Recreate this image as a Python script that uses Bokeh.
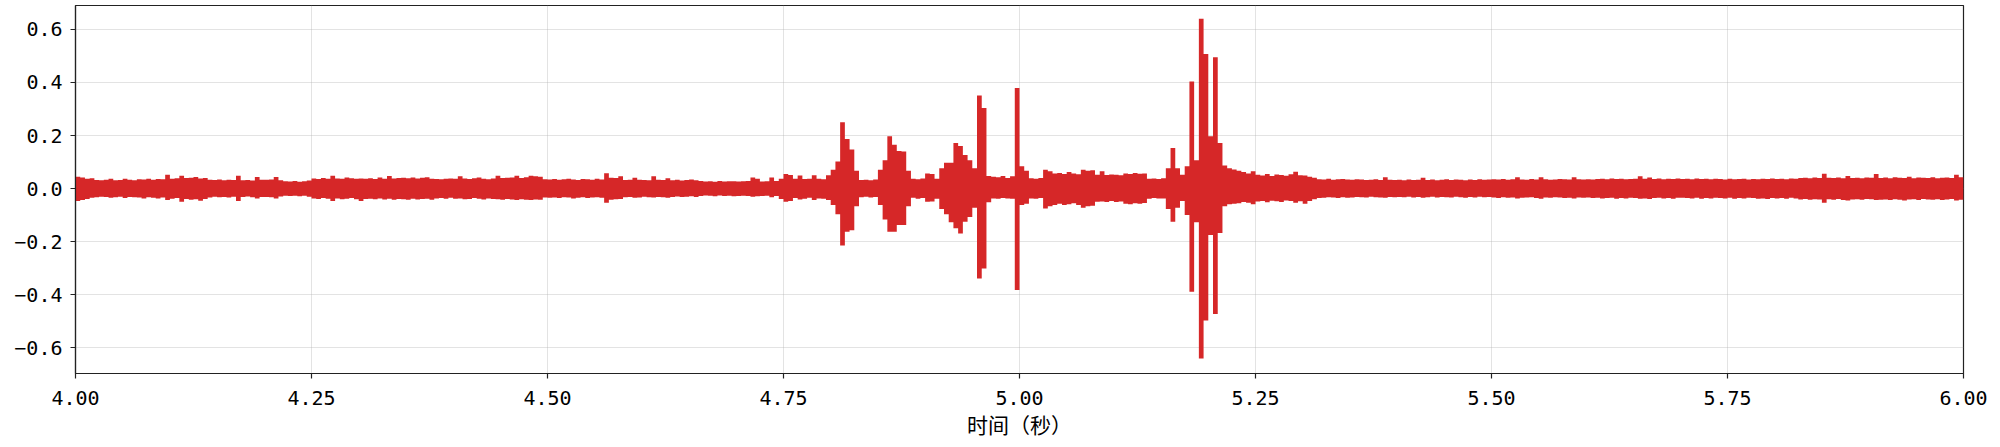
import numpy as np
from bokeh.plotting import figure
from bokeh.models import FixedTicker, CustomJSTickFormatter, Range1d
from bokeh.embed import file_html
from bokeh.resources import INLINE

# Waveform envelope, one bin every 5 ms from 4.00 s
T_START = 4.0
T_STEP = 0.005
X_TICKS = [4.0, 4.25, 4.5, 4.75, 5.0, 5.25, 5.5, 5.75, 6.0]
Y_TICKS = [-0.6, -0.4, -0.2, 0.0, 0.2, 0.4, 0.6]
X_LABEL = "时间（秒）"

# upper envelope (thousandths)
UPPER_MILLI = [
    38, 35, 30, 32, 25, 24, 26, 30, 24, 25, 30, 26, 24, 28, 27, 30, 26, 29, 28, 45,
    30, 32, 41, 33, 34, 37, 31, 33, 26, 25, 27, 24, 26, 25, 41, 24, 25, 23, 37, 26,
    26, 27, 37, 24, 21, 20, 22, 19, 21, 23, 31, 29, 33, 30, 41, 31, 30, 35, 32, 30,
    31, 30, 32, 29, 35, 30, 40, 31, 33, 34, 32, 35, 31, 34, 36, 30, 29, 28, 30, 31,
    30, 39, 31, 29, 32, 35, 30, 28, 31, 41, 33, 34, 35, 41, 33, 36, 41, 39, 38, 28,
    27, 29, 26, 28, 30, 27, 25, 29, 28, 26, 30, 27, 51, 34, 33, 39, 25, 26, 34, 26,
    25, 24, 39, 26, 25, 32, 24, 26, 23, 25, 27, 24, 22, 20, 21, 19, 22, 20, 21, 21,
    20, 21, 22, 35, 30, 20, 21, 35, 22, 30, 48, 44, 30, 42, 29, 30, 43, 30, 28, 43,
    64, 95, 243, 180, 140, 60, 25, 26, 24, 27, 64, 100, 190, 158, 135, 133, 60, 30, 28, 31,
    50, 48, 30, 70, 90, 90, 165, 153, 120, 100, 70, 344, 297, 40, 38, 36, 40, 33, 39, 372,
    77, 60, 32, 30, 33, 64, 58, 50, 52, 48, 55, 50, 47, 64, 60, 62, 45, 58, 44, 46,
    45, 43, 50, 48, 52, 49, 50, 30, 31, 29, 32, 70, 146, 70, 45, 77, 397, 100, 633, 500,
    190, 488, 165, 80, 70, 65, 60, 55, 50, 58, 45, 42, 48, 40, 46, 44, 41, 47, 56, 43,
    42, 38, 34, 28, 27, 30, 26, 28, 29, 27, 26, 28, 27, 25, 26, 28, 25, 36, 26, 25,
    26, 24, 27, 25, 26, 34, 25, 27, 24, 26, 28, 25, 27, 26, 24, 27, 25, 28, 26, 27,
    28, 27, 29, 26, 28, 36, 27, 26, 29, 27, 36, 28, 26, 27, 29, 28, 27, 36, 28, 27,
    28, 27, 29, 30, 28, 31, 29, 30, 28, 29, 30, 39, 30, 35, 29, 31, 28, 30, 29, 31,
    29, 30, 28, 31, 29, 30, 28, 30, 29, 27, 30, 28, 29, 30, 27, 29, 28, 30, 29, 31,
    29, 30, 28, 31, 30, 33, 34, 32, 35, 33, 49, 34, 33, 35, 32, 40, 33, 34, 32, 35,
    34, 48, 33, 35, 32, 36, 34, 33, 38, 32, 35, 34, 33, 36, 32, 34, 35, 33, 45, 36,
]

# lower envelope depth below zero (thousandths)
LOWER_MILLI = [
    40, 36, 32, 28, 26, 24, 25, 28, 26, 24, 29, 25, 26, 27, 30, 26, 28, 30, 27, 36,
    31, 29, 43, 32, 35, 33, 39, 32, 27, 24, 26, 25, 27, 24, 40, 25, 23, 26, 30, 25,
    25, 26, 30, 23, 20, 21, 20, 22, 20, 24, 30, 32, 29, 31, 40, 30, 33, 31, 29, 33,
    40, 32, 31, 33, 30, 34, 31, 35, 32, 33, 35, 31, 34, 32, 31, 35, 30, 29, 31, 28,
    31, 30, 33, 32, 29, 31, 34, 30, 32, 33, 35, 32, 34, 36, 33, 35, 36, 34, 35, 27,
    28, 27, 29, 26, 27, 30, 28, 26, 29, 27, 26, 28, 46, 35, 33, 32, 26, 25, 28, 27,
    24, 26, 27, 25, 26, 28, 25, 23, 25, 24, 22, 25, 21, 19, 20, 22, 19, 21, 20, 22,
    21, 20, 21, 24, 22, 21, 20, 26, 21, 32, 43, 40, 29, 34, 31, 28, 36, 30, 31, 36,
    55, 90, 208, 156, 150, 60, 26, 24, 27, 25, 55, 110, 156, 156, 130, 130, 60, 28, 31, 29,
    43, 42, 31, 70, 90, 120, 143, 162, 118, 100, 65, 332, 294, 45, 30, 31, 29, 30, 31, 375,
    55, 50, 30, 31, 29, 68, 60, 55, 50, 55, 52, 48, 55, 65, 60, 58, 43, 42, 44, 40,
    44, 42, 50, 52, 48, 50, 47, 31, 29, 30, 30, 70, 118, 65, 40, 93, 382, 120, 633, 490,
    168, 466, 160, 60, 52, 50, 48, 44, 46, 52, 42, 40, 45, 39, 41, 44, 38, 40, 46, 41,
    50, 40, 33, 29, 28, 26, 27, 29, 26, 28, 27, 25, 26, 27, 24, 26, 27, 28, 25, 26,
    25, 26, 24, 27, 25, 28, 26, 24, 27, 25, 26, 27, 24, 26, 28, 25, 27, 24, 26, 25,
    27, 29, 26, 28, 27, 30, 28, 27, 26, 29, 31, 27, 28, 26, 27, 29, 28, 30, 27, 28,
    27, 29, 28, 30, 29, 28, 31, 29, 30, 28, 29, 31, 30, 32, 29, 28, 30, 29, 31, 28,
    28, 29, 30, 28, 31, 29, 30, 28, 29, 30, 28, 31, 29, 30, 28, 29, 31, 30, 32, 29,
    30, 29, 31, 28, 30, 34, 32, 35, 33, 34, 46, 33, 35, 32, 36, 38, 34, 33, 35, 32,
    33, 36, 35, 34, 36, 33, 35, 38, 34, 33, 36, 32, 34, 35, 33, 36, 34, 32, 38, 35,
]

assert len(UPPER_MILLI) == len(LOWER_MILLI) == 400, (len(UPPER_MILLI), len(LOWER_MILLI))

RED = "#d62728"
# half thickness of the original stroke, in data units
STROKE_PAD = 0.007

n = len(UPPER_MILLI)
t = T_START + T_STEP * np.arange(n + 1)
upper = np.array(UPPER_MILLI + UPPER_MILLI[-1:], dtype=float) / 1000.0 + STROKE_PAD
lower = -np.array(LOWER_MILLI + LOWER_MILLI[-1:], dtype=float) / 1000.0 - STROKE_PAD

p = figure(width=2000, height=447, output_backend="svg", toolbar_location=None,
           x_range=Range1d(4.0, 6.0), y_range=Range1d(-0.697, 0.690),
           min_border_left=75, min_border_right=37, min_border_top=5, min_border_bottom=74)

p.varea_step(x=t, y1=lower, y2=upper, step_mode="after", fill_color=RED, fill_alpha=1.0)

p.background_fill_color = "white"
p.border_fill_color = "white"
p.outline_line_color = "#222222"
p.outline_line_width = 1.2

p.xaxis.ticker = FixedTicker(ticks=X_TICKS)
p.yaxis.ticker = FixedTicker(ticks=Y_TICKS)
p.xaxis.formatter = CustomJSTickFormatter(code="return tick.toFixed(2);")
p.yaxis.formatter = CustomJSTickFormatter(code="return tick.toFixed(1).replace('-', '\\u2212');")

for ax in (p.xaxis[0], p.yaxis[0]):
    ax.axis_line_color = "#222222"
    ax.axis_line_width = 1.2
    ax.major_tick_line_color = "#222222"
    ax.major_tick_line_width = 1.2
    ax.major_tick_in = 0
    ax.major_tick_out = 5
    ax.minor_tick_line_color = None
    ax.major_label_text_font = "DejaVu Sans Mono"
    ax.major_label_text_font_size = "20px"
    ax.major_label_text_color = "black"

p.yaxis.major_label_standoff = 8
p.xaxis.major_label_standoff = 12
p.xaxis.axis_label = X_LABEL
p.xaxis.axis_label_text_font = "Noto Sans CJK SC"
p.xaxis.axis_label_text_font_size = "21px"
p.xaxis.axis_label_text_font_style = "normal"
p.xaxis.axis_label_text_color = "black"
p.xaxis.axis_label_standoff = 1

p.grid.grid_line_color = "#b0b0b0"
p.grid.grid_line_alpha = 0.35
p.grid.grid_line_width = 1

open("out.html", "w").write(file_html(p, INLINE))
